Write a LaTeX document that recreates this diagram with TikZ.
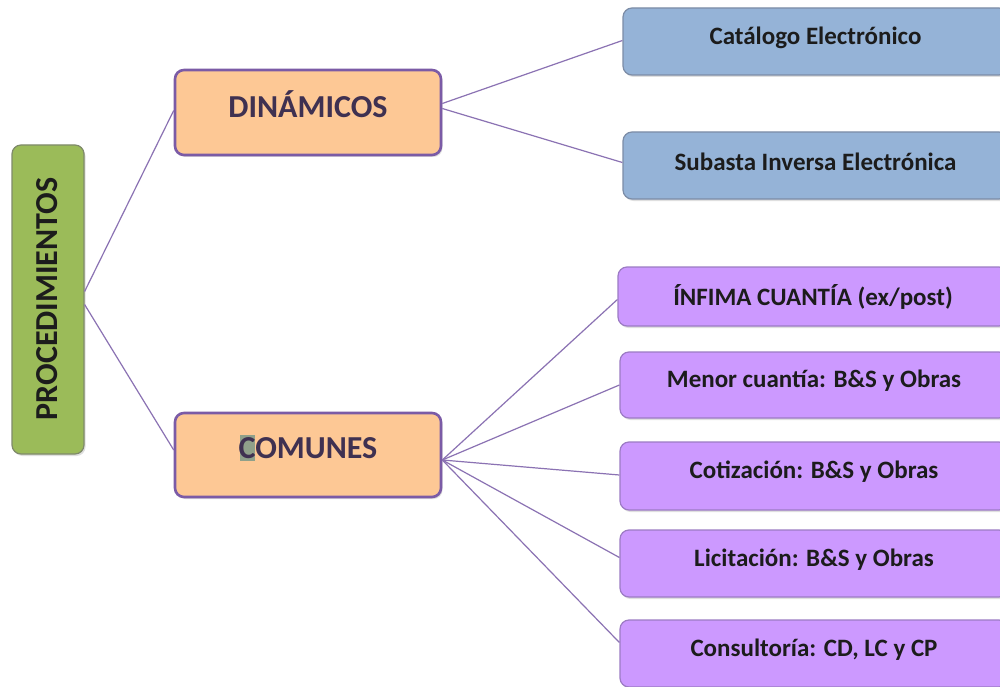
\documentclass[tikz,border=0pt]{standalone}
\usepackage{fontspec}
\setmainfont{Carlito}
\usetikzlibrary{shadows}
\definecolor{gfill}{HTML}{9BBB59}
\definecolor{gline}{HTML}{7F8A6A}
\definecolor{ofill}{HTML}{FDC895}
\definecolor{oline}{HTML}{7B5BA6}
\definecolor{bfill}{HTML}{95B3D7}
\definecolor{bline}{HTML}{7C8CA6}
\definecolor{pfill}{HTML}{CC99FF}
\definecolor{pline}{HTML}{9C7BC4}
\definecolor{conn}{HTML}{8B72B3}
\definecolor{otext}{HTML}{3F3151}
\definecolor{dtext}{HTML}{1C1C1C}
\definecolor{chl}{HTML}{8FA08A}
\tikzset{
  base/.style={rectangle, rounded corners=9pt, inner sep=0pt,
    drop shadow={opacity=0.25, shadow xshift=1.5pt, shadow yshift=-2pt}},
  rootbox/.style={base, fill=gfill, draw=gline, line width=1.2pt},
  midbox/.style={base, fill=ofill, draw=oline, line width=2.6pt},
  bluebox/.style={base, fill=bfill, draw=bline, line width=1.2pt},
  purpbox/.style={base, fill=pfill, draw=pline, line width=1.2pt},
  bigtxt/.style={font=\bfseries\fontsize{32}{35}\selectfont, inner sep=0pt},
  smalltxt/.style={font=\bfseries\fontsize{25}{28}\selectfont, text=dtext, inner sep=0pt},
  link/.style={draw=conn, line width=1.2pt}
}
\begin{document}
\begin{tikzpicture}[x=1pt,y=-1pt]
\useasboundingbox (0,0) rectangle (1000,687);
\clip (0,0) rectangle (1000,687);
\fill[white] (0,0) rectangle (1000,687);
% root
\node[rootbox, minimum width=72pt, minimum height=309pt] (g) at (48,299.5) {};
\node[bigtxt, text=dtext, rotate=90] (gT) at (47,299) {PROCEDIMIENTOS};
% middle
\node[midbox, minimum width=266pt, minimum height=85pt] (din) at (308,112.5) {};
\node[bigtxt, text=otext] (dinT) at ([yshift=8pt]din.center) {DINÁMICOS};
\node[midbox, minimum width=266pt, minimum height=84pt] (com) at (308,455) {};
\fill[chl] (239.5,435) rectangle (255,461);
\node[bigtxt, text=otext] (comT) at ([yshift=7pt]com.center) {COMUNES};
% blue
\node[bluebox, minimum width=385pt, minimum height=67pt] (cat) at (815.5,41.5) {};
\node[smalltxt] (catT) at ([yshift=4pt]cat.center) {Catálogo Electrónico};
\node[bluebox, minimum width=385pt, minimum height=67pt] (sub) at (815.5,165.5) {};
\node[smalltxt] (subT) at ([yshift=4pt]sub.center) {Subasta Inversa Electrónica};
% purple
\node[purpbox, minimum width=390pt, minimum height=59pt] (inf) at (813,296.5) {};
\node[smalltxt] (infT) at ([yshift=0pt]inf.center) {ÍNFIMA CUANTÍA (ex/post)};
\node[purpbox, minimum width=388pt, minimum height=66pt] (men) at (814,385) {};
\node[smalltxt] (menT) at ([yshift=4pt]men.center) {Menor cuantía: B\&S y Obras};
\node[purpbox, minimum width=388pt, minimum height=68pt] (cot) at (814,476) {};
\node[smalltxt] (cotT) at ([yshift=4pt]cot.center) {Cotización: B\&S y Obras};
\node[purpbox, minimum width=388pt, minimum height=67pt] (lic) at (814,563.5) {};
\node[smalltxt] (licT) at ([yshift=4pt]lic.center) {Licitación: B\&S y Obras};
\node[purpbox, minimum width=388pt, minimum height=67pt] (con) at (814,653.5) {};
\node[smalltxt] (conT) at ([yshift=4pt]con.center) {Consultoría: CD, LC y CP};
% connectors
\draw[link] ([yshift=8pt]g.east) -- ([yshift=2pt]din.west);
\draw[link] ([yshift=-5pt]g.east) -- ([yshift=5pt]com.west);
\draw[link] ([yshift=9pt]din.east) -- ([yshift=1pt]cat.west);
\draw[link] ([yshift=4pt]din.east) -- ([yshift=3pt]sub.west);
\draw[link] ([yshift=-5pt]com.east) -- ([yshift=-3pt]inf.west);
\draw[link] ([yshift=-5pt]com.east) -- (men.west);
\draw[link] ([yshift=-5pt]com.east) -- ([yshift=1pt]cot.west);
\draw[link] ([yshift=-5pt]com.east) -- ([yshift=6pt]lic.west);
\draw[link] ([yshift=-5pt]com.east) -- ([yshift=11pt]con.west);
\end{tikzpicture}
\end{document}
